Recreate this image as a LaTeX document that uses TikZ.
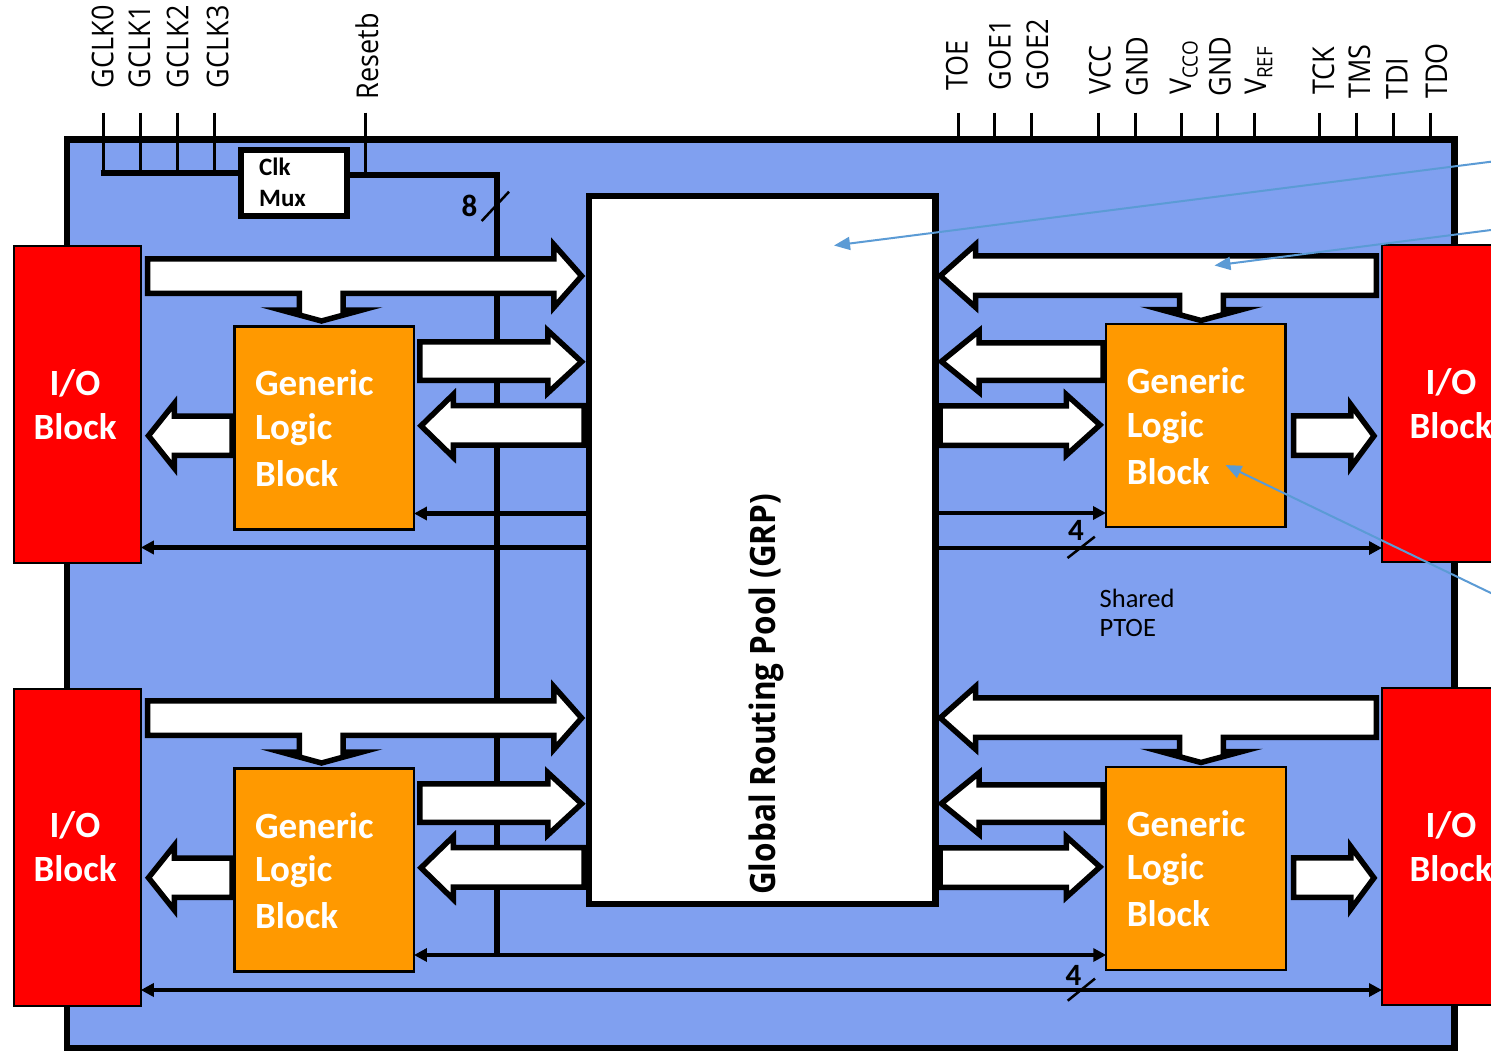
\documentclass[tikz,border=0pt]{standalone}
\usepackage{fontspec}
\setmainfont{Carlito}
\newfontfamily\pinfont[FakeStretch=0.9]{Open Sans}
\newfontfamily\grpfont[FakeStretch=0.9]{Open Sans}
\usetikzlibrary{arrows.meta,calc}
\definecolor{boxblue}{RGB}{128,160,240}
\definecolor{iored}{RGB}{255,0,0}
\definecolor{glborange}{RGB}{255,153,0}
\definecolor{calloutblue}{RGB}{91,155,213}
\pgfdeclarelayer{bg}
\pgfdeclarelayer{mid}
\pgfsetlayers{bg,mid,main}
\tikzset{
  iob/.style={draw=black,line width=2.2pt,fill=iored,minimum width=126.5pt,minimum height=317pt,inner sep=0pt,outer sep=0pt},
  glb/.style={draw=black,line width=2.2pt,fill=glborange,minimum width=179.5pt,minimum height=203pt,inner sep=0pt,outer sep=0pt},
  grpbox/.style={draw=black,line width=6.5pt,fill=white,minimum width=346.5pt,minimum height=708pt,inner sep=0pt,outer sep=0pt},
  muxbox/.style={draw=black,line width=6pt,fill=white,minimum width=105.8pt,minimum height=66pt,inner sep=0pt,outer sep=0pt},
  bigtext/.style={text=white,font=\fontsize{37}{37}\selectfont\bfseries,inner sep=0pt},
  gtext/.style={bigtext,anchor=base west},
  iotext/.style={bigtext,anchor=base},
  muxtext/.style={font=\fontsize{25}{25}\selectfont\bfseries,anchor=base west,inner sep=0pt},
  notetext/.style={font=\fontsize{26.5}{26.5}\selectfont,anchor=base west,inner sep=0pt},
  blockarrow/.style={draw=black,line width=5.5pt,fill=white,line join=miter,miter limit=20},
  wire/.style={line width=5.5pt},
  pinline/.style={line width=3pt},
  pinlabel/.style={rotate=90,anchor=base west,inner sep=0pt,font=\pinfont\fontsize{30}{30}\selectfont},
  sig/.style={line width=4.5pt,-{Triangle[length=13pt,width=13pt]}},
  sigboth/.style={line width=4.5pt,{Triangle[length=13pt,width=13pt]}-{Triangle[length=13pt,width=13pt]}},
  callout/.style={draw=calloutblue,line width=2pt,-{Triangle[length=16pt,width=13pt]}},
  buswidth/.style={font=\fontsize{31}{31}\selectfont\bfseries,anchor=base,inner sep=0pt},
  slash/.style={line width=2.5pt},
}
\begin{document}
\begin{tikzpicture}[x=1pt,y=-1pt]
\useasboundingbox (0,0) rectangle (1491,1051);

% ---------- main blocks ----------
\node[grpbox] (grp) at (762.25,550) {};
\node[rotate=90,anchor=base west,inner sep=0pt,font=\grpfont\bfseries\fontsize{35}{35}\selectfont] (grptext) at (775,895) {Global Routing Pool (GRP)};

\node[iob] (ioTL) at (77.5,404.4) {};
\node[iob] (ioBL) at (77.5,847.3) {};
\node[iob,minimum width=143pt] (ioTR) at (1453.5,403.6) {};
\node[iob,minimum width=143pt] (ioBR) at (1453.5,846.5) {};

\node[iotext] (ioTLa) at (75,395) {I/O};
\node[iotext] (ioTLb) at (75,439) {Block};
\node[iotext] (ioBLa) at (75,837) {I/O};
\node[iotext] (ioBLb) at (75,881) {Block};
\node[iotext] (ioTRa) at (1451,394) {I/O};
\node[iotext] (ioTRb) at (1451,438) {Block};
\node[iotext] (ioBRa) at (1451,837) {I/O};
\node[iotext] (ioBRb) at (1451,881) {Block};

\node[glb] (glbTL) at (324.2,427.9) {};
\node[glb] (glbBL) at (324.2,870) {};
\node[glb] (glbTR) at (1195.8,425.5) {};
\node[glb] (glbBR) at (1196,868.4) {};

\foreach \g in {glbTL,glbBL,glbTR,glbBR}{
  \node[gtext] (\g-1) at ($(\g.north west)+(20.5,69.5)$) {Generic};
  \node[gtext] (\g-2) at ($(\g.north west)+(20.5,113)$) {Logic};
  \node[gtext] (\g-3) at ($(\g.north west)+(20.5,160)$) {Block};
}

\node[muxbox] (clkmux) at (294.1,183.3) {};
\node[muxtext] (clkA) at (259,176) {Clk};
\node[muxtext] (clkB) at (259,207) {Mux};

\node[notetext] (sh1) at (1099.5,607) {Shared};
\node[notetext] (sh2) at (1099.5,636) {PTOE};

\node[buswidth] (w8) at (469.5,217) {8};
\node[buswidth] (w4a) at (1076,540) {4};
\node[buswidth] (w4b) at (1073.5,985) {4};

% ---------- pin labels ----------
\node[pinlabel] (pg0) at (113.3,88.3) {GCLK0};
\node[pinlabel] (pg1) at (150,88.3) {GCLK1};
\node[pinlabel] (pg2) at (188.3,88.3) {GCLK2};
\node[pinlabel] (pg3) at (228.3,88.3) {GCLK3};
\node[pinlabel] (prst) at (378,99.3) {Resetb};
\node[pinlabel] (ptoe) at (967.6,90.7) {TOE};
\node[pinlabel] (pgoe1) at (1010.5,90.7) {GOE1};
\node[pinlabel] (pgoe2) at (1048,90.7) {GOE2};
\node[pinlabel] (pvcc) at (1110.7,95) {VCC};
\node[pinlabel] (pgnd1) at (1147.5,96.7) {GND};
\node[pinlabel] (pvcco) at (1191,95) {V\textsubscript{CCO}};
\node[pinlabel] (pgnd2) at (1230.5,96.7) {GND};
\node[pinlabel] (pvref) at (1266,95) {V\textsubscript{REF}};
\node[pinlabel] (ptck) at (1334,95) {TCK};
\node[pinlabel] (ptms) at (1370,99) {TMS};
\node[pinlabel] (ptdi) at (1407.6,100) {TDI};
\node[pinlabel] (ptdo) at (1447,99) {TDO};

\coordinate (tap) at (497,955);

% ---------- background: box, wires ----------
\begin{pgfonlayer}{bg}
  \fill[white] (0,0) rectangle (1491,1051);
  \draw[line width=6.5pt,fill=boxblue] (67,139.5) rectangle (1454.5,1048);
  \foreach \x in {103.7,140.3,177.3,214}{\draw[pinline] (\x,112.7) -- (\x,173);}
  \draw[pinline] (365.3,112.7) -- (365.3,175);
  \foreach \x in {958,994.8,1031,1098,1135,1181.5,1217,1254.5,1319,1356.5,1393,1430}{\draw[pinline] (\x,112.7) -- (\x,139.5);}
  \draw[wire] (100.5,173) -- (clkmux.west |- 0,173);
  \draw[wire] (clkmux.east |- 0,175) -- (497,175) -- (tap);
  \draw[sig] (grp.west |- 0,513.5) -- (glbTL.east |- 0,513.5);
  \draw[sig] (grp.west |- 0,547.5) -- (ioTL.east |- 0,547.5);
  \draw[sig] (grp.east |- 0,513) -- (glbTR.west |- 0,513);
  \draw[sig] (grp.east |- 0,548) -- (ioTR.west |- 0,548);
  \draw[sigboth] (glbBL.east |- 0,955) -- (glbBR.west |- 0,955);
  \draw[sigboth] (ioBL.east |- 0,990) -- (ioBR.west |- 0,990);
  \draw[slash] (481.7,221) -- (509,191.7);
  \draw[slash] (1067.5,558) -- (1094.8,536.7);
  \draw[slash] (1067.7,1000.7) -- (1095,978.6);
\end{pgfonlayer}

% ---------- block arrows ----------
\begin{pgfonlayer}{mid}
\foreach \dy in {0,442}{
 \begin{scope}[shift={(0,\dy)}]
  % left side
  \draw[blockarrow] (147.5,258.75) -- (553.75,258.75) -- (553.75,244.5) -- (581.6,276) -- (553.75,307.5) -- (553.75,293.25) -- (343.2,293.25) -- (343.2,310) -- (362,310) -- (321.5,321) -- (281,310) -- (299.4,310) -- (299.4,293.25) -- (147.5,293.25) -- cycle;
  \draw[blockarrow] (419.75,341.75) -- (547.75,341.75) -- (547.75,330.5) -- (581.6,361.75) -- (547.75,393) -- (547.75,380.25) -- (419.75,380.25) -- cycle;
  \draw[blockarrow] (584,405.5) -- (453.25,405.5) -- (453.25,394.5) -- (421,425.8) -- (453.25,457.2) -- (453.25,445.2) -- (584,445.2) -- cycle;
  \draw[blockarrow] (232,416) -- (174.25,416) -- (174.25,403.5) -- (148.5,435.75) -- (174.25,468) -- (174.25,455.3) -- (232,455.3) -- cycle;
  % right side
  \draw[blockarrow] (1376.25,255.75) -- (975.5,255.75) -- (975.5,244.5) -- (940.3,275.85) -- (975.5,307.2) -- (975.5,295.25) -- (1179.5,295.25) -- (1179.5,309.5) -- (1160.5,309.5) -- (1201,320.5) -- (1242,309.5) -- (1223.25,309.5) -- (1223.25,295.25) -- (1376.25,295.25) -- cycle;
  \draw[blockarrow] (1103,342.75) -- (979.2,342.75) -- (979.2,330.75) -- (941.4,361.5) -- (979.2,392.25) -- (979.2,380.25) -- (1103,380.25) -- cycle;
  \draw[blockarrow] (940,405.75) -- (1066.25,405.75) -- (1066.25,394.5) -- (1100,424.9) -- (1066.25,455.25) -- (1066.25,445.25) -- (940,445.25) -- cycle;
  \draw[blockarrow] (1293.5,415.75) -- (1350.75,415.75) -- (1350.75,404.5) -- (1374,435.9) -- (1350.75,467.25) -- (1350.75,455.25) -- (1293.5,455.25) -- cycle;
 \end{scope}
}
\end{pgfonlayer}

% ---------- callouts ----------
\coordinate (co1) at (1495,161.2);
\coordinate (ct1) at (834,245.5);
\coordinate (co2) at (1495,229.5);
\coordinate (ct2) at (1214.5,265.5);
\coordinate (co3) at (1495,595);
\coordinate (ct3) at (1225.5,465);
\draw[callout] (co1) -- (ct1);
\draw[callout] (co2) -- (ct2);
\draw[callout] (co3) -- (ct3);
\end{tikzpicture}
\end{document}
